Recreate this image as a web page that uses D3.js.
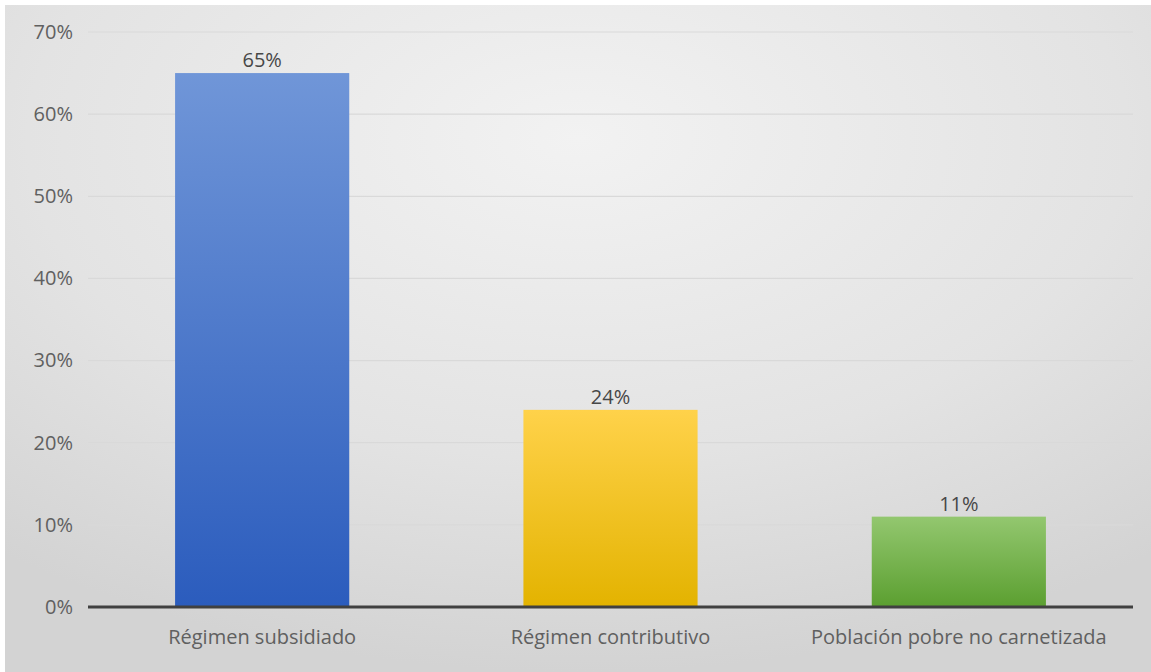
<!DOCTYPE html>
<html><head><meta charset="utf-8">
<script src="https://cdn.jsdelivr.net/npm/d3@7"></script>
<style>html,body{margin:0;padding:0;background:#fff;overflow:hidden}</style>
</head><body>
<svg id="chart" width="1151" height="672"></svg>
<script>
(function(){
const categories = ["Régimen subsidiado", "Régimen contributivo", "Población pobre no carnetizada"];
const values = [0.65, 0.24, 0.11];
const valueLabels = ["65%", "24%", "11%"];
const yTicks = [0, 0.1, 0.2, 0.3, 0.4, 0.5, 0.6, 0.7];
const barColors = [["#7096d8", "#2b5cbd"], ["#ffd24a", "#e3b300"], ["#93c76f", "#5b9f30"]];

const svg = d3.select("#chart");
const W = 1151, H = 672;
const defs = svg.append("defs");
const bg = defs.append("radialGradient").attr("id", "bg").attr("cx", "50%").attr("cy", "20%").attr("r", "80%");
bg.append("stop").attr("offset", "0%").attr("stop-color", "#f2f2f2");
bg.append("stop").attr("offset", "60%").attr("stop-color", "#e3e3e3");
bg.append("stop").attr("offset", "100%").attr("stop-color", "#d3d3d3");
barColors.forEach((c, i) => {
  const g = defs.append("linearGradient").attr("id", "bar" + i).attr("x1", 0).attr("y1", 0).attr("x2", 0).attr("y2", 1);
  g.append("stop").attr("offset", "0%").attr("stop-color", c[0]);
  g.append("stop").attr("offset", "100%").attr("stop-color", c[1]);
});

svg.append("rect").attr("x", 0).attr("y", 0).attr("width", W).attr("height", H).attr("fill", "#fff");
svg.append("rect").attr("x", 5).attr("y", 5).attr("width", W - 5).attr("height", H - 5).attr("fill", "url(#bg)");

const mLeft = 88, mRight = 1133, mTop = 32, mBottom = 607;
const x = d3.scaleBand().domain(categories).range([mLeft, mRight]).paddingInner(0.5).paddingOuter(0.25);
const y = d3.scaleLinear().domain([0, 0.7]).range([mBottom, mTop]);

const font = "'Open Sans', 'Noto Sans', sans-serif";
const fs = 20;

// gridlines
svg.append("g").selectAll("line").data(yTicks.filter(d => d > 0)).join("line")
  .attr("x1", mLeft).attr("x2", mRight)
  .attr("y1", d => y(d)).attr("y2", d => y(d))
  .attr("stroke", "#d9d9d9").attr("stroke-width", 1.2);

// y axis labels
const yAxis = d3.axisLeft(y).tickValues(yTicks).tickFormat(d3.format(".0%")).tickSize(0).tickPadding(15);
const ya = svg.append("g").attr("transform", `translate(${mLeft},0)`).call(yAxis);
ya.select(".domain").remove();
ya.selectAll("text").attr("font-family", font).attr("font-size", fs).attr("fill", "#606060");

// bars
svg.append("g").selectAll("rect").data(values).join("rect")
  .attr("x", (d, i) => x(categories[i]))
  .attr("width", x.bandwidth())
  .attr("y", d => y(d))
  .attr("height", d => y(0) - y(d))
  .attr("fill", (d, i) => `url(#bar${i})`);

// value labels
svg.append("g").selectAll("text").data(values).join("text")
  .attr("x", (d, i) => x(categories[i]) + x.bandwidth() / 2)
  .attr("y", d => y(d) - 6)
  .attr("text-anchor", "middle")
  .attr("font-family", font).attr("font-size", fs).attr("fill", "#474747")
  .text((d, i) => valueLabels[i]);

// x axis
const xAxis = d3.axisBottom(x).tickSize(0).tickPadding(23);
const xa = svg.append("g").attr("transform", `translate(0,${mBottom})`).call(xAxis);
xa.select(".domain").remove();
xa.selectAll("text").attr("font-family", font).attr("font-size", fs).attr("fill", "#606060");
svg.append("line").attr("x1", mLeft).attr("x2", mRight).attr("y1", y(0)).attr("y2", y(0))
  .attr("stroke", "#404040").attr("stroke-width", 3);
})();
</script>
</body></html>
